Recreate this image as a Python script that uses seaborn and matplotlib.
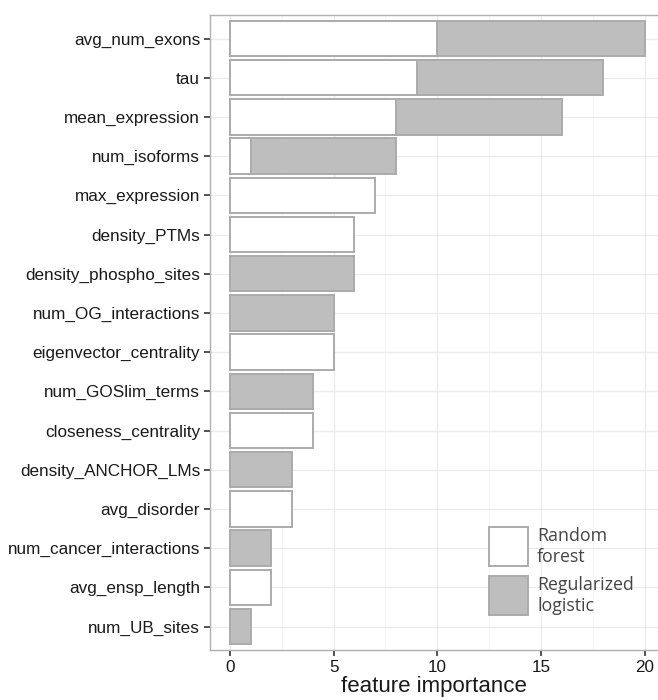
import numpy as np
import pandas as pd
import seaborn as sns
import matplotlib.pyplot as plt
from matplotlib.patches import Rectangle

features = ["avg_num_exons", "tau", "mean_expression", "num_isoforms",
            "max_expression", "density_PTMs", "density_phospho_sites",
            "num_OG_interactions", "eigenvector_centrality", "num_GOSlim_terms",
            "closeness_centrality", "density_ANCHOR_LMs", "avg_disorder",
            "num_cancer_interactions", "avg_ensp_length", "num_UB_sites"]
random_forest = [10, 9, 8, 1, 7, 6, 0, 0, 5, 0, 4, 0, 3, 0, 2, 0]
regularized_logistic = [10, 9, 8, 7, 0, 0, 6, 5, 0, 4, 0, 3, 0, 2, 0, 1]

df = pd.DataFrame({"feature": features,
                   "rf": random_forest,
                   "rl": regularized_logistic})
df["total"] = df["rf"] + df["rl"]
# zero-width pieces are left out so they don't leave an edge line at 0
df["rf_bar"] = df["rf"].replace(0, np.nan)
df["total_bar"] = df["total"].where(df["rl"] > 0)

sns.set_style("white")
plt.rcParams["font.family"] = ["Liberation Sans", "DejaVu Sans"]

fig = plt.figure(figsize=(6.58, 7), dpi=100)
ax = fig.add_axes([0.319, 0.0714, 0.681, 0.9072])

edge = "#ababab"
grey = "#bebebe"

# grey bars first (full stacked length), white random-forest part drawn over it
sns.barplot(data=df, x="total_bar", y="feature", orient="h", color=grey,
            saturation=1, width=0.9, edgecolor=edge, linewidth=1.4, ax=ax)
sns.barplot(data=df, x="rf_bar", y="feature", orient="h", color="white",
            saturation=1, width=0.9, edgecolor=edge, linewidth=1.4, ax=ax)

ax.set_xlim(-0.96, 20.63)
ax.set_ylim(15.6, -0.6)
ax.set_xticks([0, 5, 10, 15, 20])
ax.set_xticks([2.5, 7.5, 12.5, 17.5], minor=True)
ax.grid(True, which="major", color="#ebebeb", linewidth=0.9)
ax.grid(True, which="minor", color="#f4f4f4", linewidth=0.6)
ax.set_axisbelow(True)

for s in ["left", "top", "bottom"]:
    ax.spines[s].set_color("#b0b0b0")
    ax.spines[s].set_linewidth(1.0)
ax.spines["right"].set_visible(False)

ax.tick_params(axis="both", which="major", length=4, width=1.2, color="#333333",
               labelsize=12.3, labelcolor="#1a1a1a", pad=3, left=True, bottom=True)
ax.tick_params(axis="both", which="minor", length=0)
ax.set_ylabel("")
ax.set_xlabel("feature importance", fontsize=16, color="#1a1a1a", labelpad=1)

# legend drawn by hand in axes coordinates
legend_items = [("white", "Random\nforest"), (grey, "Regularized\nlogistic")]
for i, (fc, lab) in enumerate(legend_items):
    y0 = 0.132 - i * 0.077
    ax.add_patch(Rectangle((0.623, y0), 0.087, 0.061, transform=ax.transAxes,
                           facecolor=fc, edgecolor=edge, linewidth=1.4, zorder=5))
    ax.text(0.73, y0 + 0.031, lab, transform=ax.transAxes, va="center",
            ha="left", fontsize=12.8, color="#444444", linespacing=1.2,
            family=["Open Sans", "DejaVu Sans"], zorder=5)

fig.savefig("out.png", dpi=100)
